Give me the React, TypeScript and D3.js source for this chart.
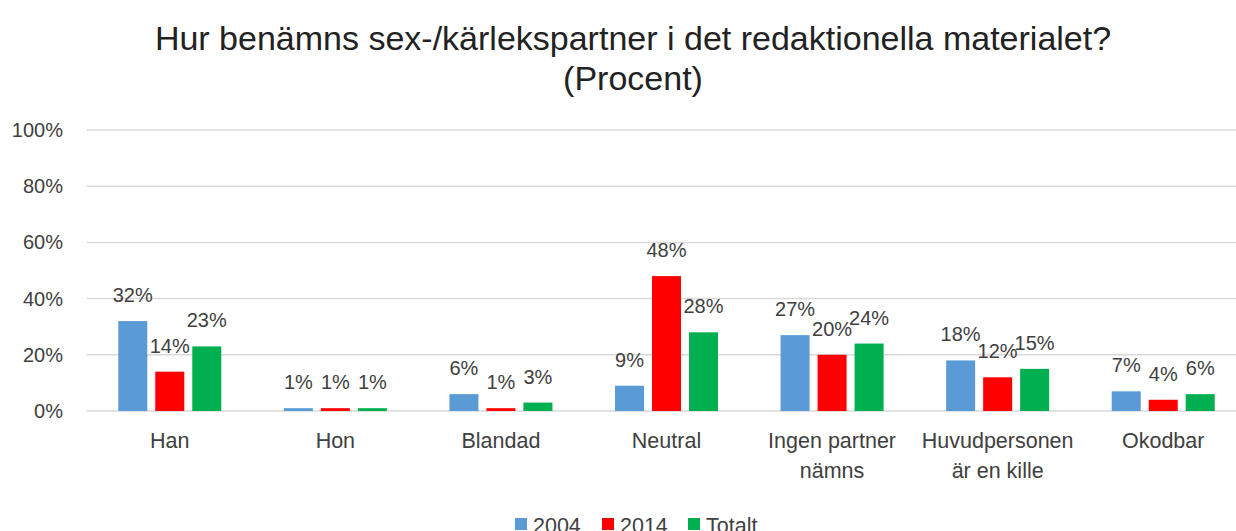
import React from "react";
import * as d3 from "d3";

const categories: string[][] = [
  ["Han"],
  ["Hon"],
  ["Blandad"],
  ["Neutral"],
  ["Ingen partner", "nämns"],
  ["Huvudpersonen", "är en kille"],
  ["Okodbar"],
];
const seriesNames = ["2004", "2014", "Totalt"];
const seriesColors = ["#5B9BD5", "#FF0000", "#00B050"];
const values2004 = [32, 1, 6, 9, 27, 18, 7];
const values2014 = [14, 1, 1, 48, 20, 12, 4];
const valuesTotalt = [23, 1, 3, 28, 24, 15, 6];
const yTicks = [0, 20, 40, 60, 80, 100];
const titleLines = ["Hur benämns sex-/kärlekspartner i det redaktionella materialet?", "(Procent)"];

const W = 1236;
const H = 531;
const FONT = "'Liberation Sans', Arial, sans-serif";
const TEXT = "#404040";

export default function App() {
  const series = [values2004, values2014, valuesTotalt];
  const catKeys = categories.map((c) => c.join(" "));
  const x0 = d3.scaleBand<string>().domain(catKeys).range([87, 1246]).paddingInner(0).paddingOuter(0);
  const x1 = d3.scaleBand<string>().domain(seriesNames).range([-51.5, 51.5]).paddingInner(0.216).paddingOuter(0);
  const y = d3.scaleLinear().domain([0, 100]).range([411, 130]);

  return (
    <svg width={W} height={H} style={{ position: "absolute", left: 0, top: 0, display: "block", background: "#fff" }}>
      <rect x={0} y={0} width={W} height={H} fill="#fff" />
      {titleLines.map((t, i) => (
        <text key={t} x={633} y={50 + i * 40} textAnchor="middle" fontFamily={FONT} fontSize={34} fill="#222">
          {t}
        </text>
      ))}
      {yTicks.map((t) => (
        <g key={t}>
          <line x1={87} x2={W} y1={y(t)} y2={y(t)} stroke="#d9d9d9" strokeWidth={1.5} />
          <text x={63} y={y(t) + 7} textAnchor="end" fontFamily={FONT} fontSize={20} fill={TEXT}>
            {t}%
          </text>
        </g>
      ))}
      {catKeys.map((k, ci) => {
        const cx = (x0(k) ?? 0) + x0.bandwidth() / 2;
        return (
          <g key={k}>
            {seriesNames.map((s, si) => {
              const v = series[si][ci];
              const bx = cx + (x1(s) ?? 0);
              return (
                <g key={s}>
                  <rect x={bx} y={y(v)} width={x1.bandwidth()} height={y(0) - y(v)} fill={seriesColors[si]} />
                  <text x={bx + x1.bandwidth() / 2} y={y(v) - 19} textAnchor="middle" fontFamily={FONT} fontSize={20} fill={TEXT}>
                    {v}%
                  </text>
                </g>
              );
            })}
            {categories[ci].map((line, li) => (
              <text key={line} x={cx} y={448 + li * 30} textAnchor="middle" fontFamily={FONT} fontSize={21.5} fill={TEXT}>
                {line}
              </text>
            ))}
          </g>
        );
      })}
      {(() => {
        const xs = [515, 602, 688];
        return seriesNames.map((s, i) => (
          <g key={s}>
            <rect x={xs[i]} y={518} width={12} height={12} fill={seriesColors[i]} />
            <text x={xs[i] + 18} y={533} fontFamily={FONT} fontSize={21.5} fill={TEXT}>
              {s}
            </text>
          </g>
        ));
      })()}
    </svg>
  );
}
